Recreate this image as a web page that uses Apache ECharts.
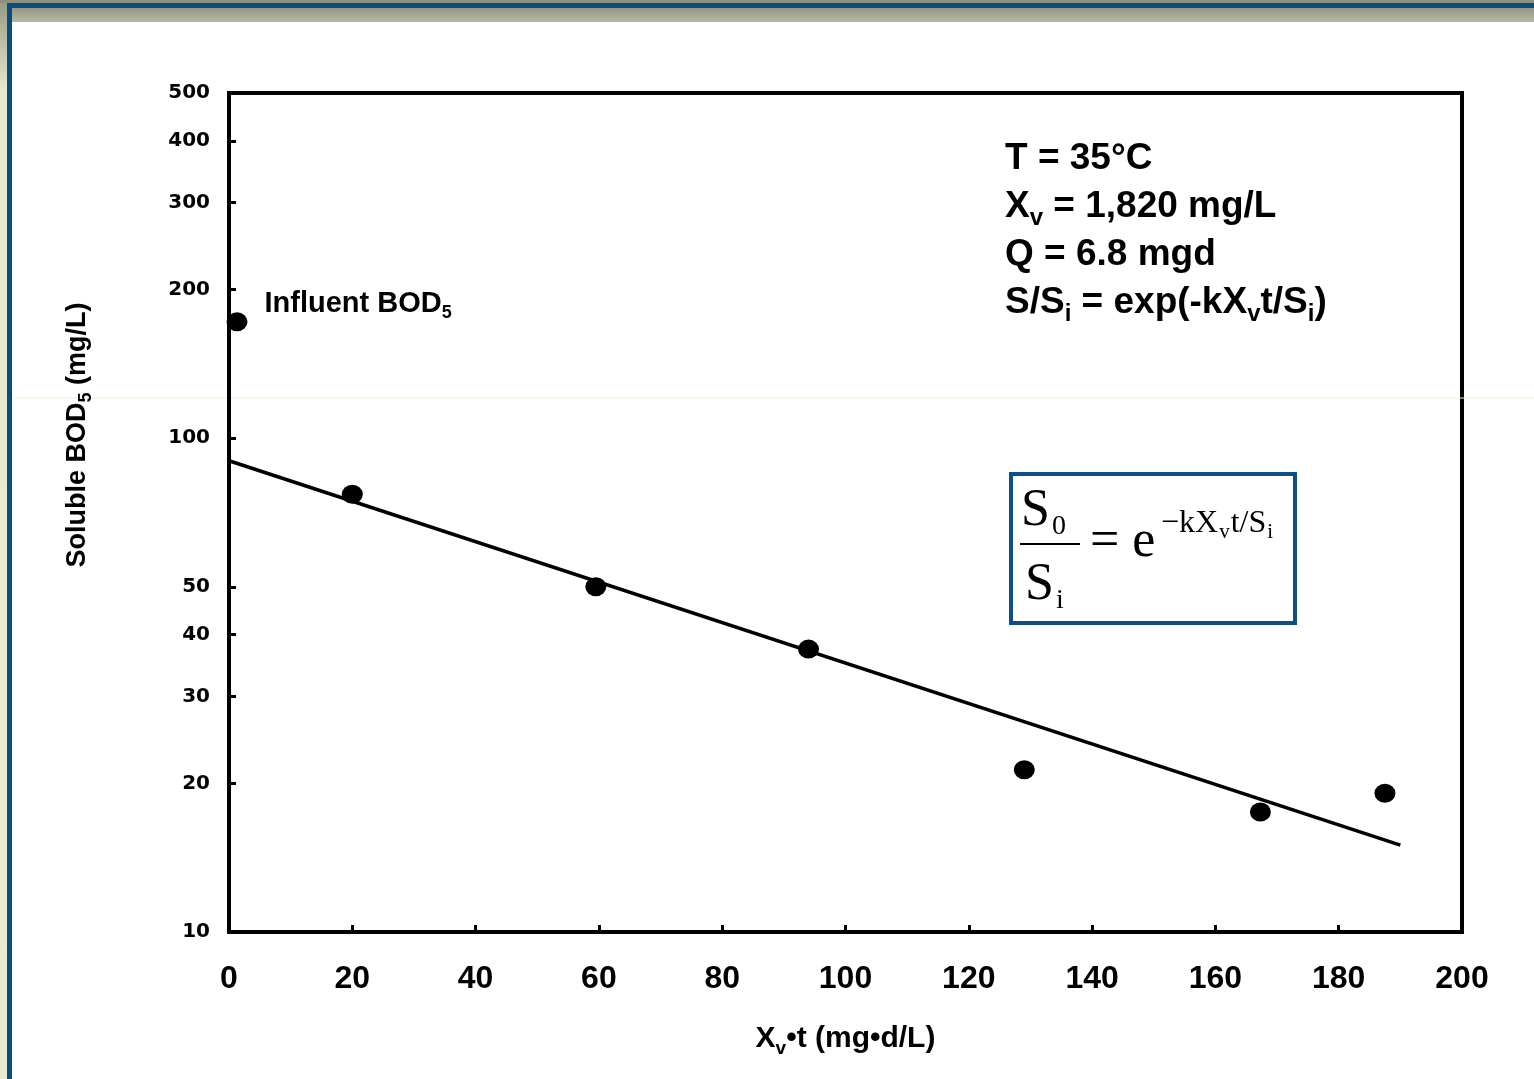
<!DOCTYPE html>
<html>
<head>
<meta charset="utf-8">
<title>Soluble BOD5 vs Xv·t</title>
<script src="https://cdn.jsdelivr.net/npm/echarts@6/dist/echarts.min.js"></script>
<style>
  html, body { margin: 0; padding: 0; background: #ffffff; }
  #chart { width: 1534px; height: 1079px; }
</style>
</head>
<body>
<div id="chart"></div>
<script>
// Axis ticks
const xTicks = [0, 20, 40, 60, 80, 100, 120, 140, 160, 180, 200];
const yTicks = [10, 20, 30, 40, 50, 100, 200, 300, 400, 500];

// Influent BOD5 (plotted just right of the y axis)
const influentX = [1.3];
const influentBOD = [172];

// Effluent soluble BOD5 against Xv·t (mg·d/L)
const xvt = [20, 59.5, 94, 129, 167.3, 187.5];
const solubleBOD = [77, 50, 37.4, 21.3, 17.5, 19.1];

// Fitted first-order line (end points)
const fitX = [0, 190];
const fitBOD = [90, 15];

const SANS = "'Liberation Sans', Arial, Helvetica, sans-serif";
const SERIF = "'Liberation Serif', 'Times New Roman', serif";

const chart = echarts.init(document.getElementById('chart'), null, { renderer: 'canvas' });

const zip = (a, b) => a.map((v, i) => [v, b[i]]);

// Top-right condition lines, each with optional subscripts
function infoLine(y, text) {
  return {
    type: 'text', left: 1005, y: y, z: 10,
    style: {
      text: text,
      verticalAlign: 'middle',
      fill: '#000',
      rich: {
        m: { fontFamily: SANS, fontWeight: 'bold', fontSize: 37, lineHeight: 46, verticalAlign: 'middle' },
        s: { fontFamily: SANS, fontWeight: 'bold', fontSize: 24, lineHeight: 24, verticalAlign: 'bottom' }
      }
    }
  };
}

const serifRich = {
  m: { fontFamily: SERIF, fontSize: 52, lineHeight: 60, verticalAlign: 'middle' },
  s: { fontFamily: SERIF, fontSize: 28, lineHeight: 26, verticalAlign: 'bottom', padding: [0, 0, 0, 2] }
};

const option = {
  backgroundColor: '#ffffff',
  animation: false,
  grid: {
    left: 229, right: 72, top: 93, bottom: 147,
    show: true, borderColor: '#000', borderWidth: 4, backgroundColor: 'transparent'
  },
  xAxis: {
    type: 'value', min: 0, max: 200, interval: 20,
    axisLine: { show: true, lineStyle: { color: '#000', width: 4 } },
    axisTick: { show: true, inside: true, length: 7, lineStyle: { color: '#000', width: 3 } },
    splitLine: { show: false },
    axisLabel: {
      margin: 31, color: '#000', fontFamily: SANS, fontWeight: 'bold', fontSize: 32,
      customValues: xTicks
    },
    name: '{m|X}{s|v}{m|•t (mg•d/L)}',
    nameLocation: 'middle', nameGap: 88,
    nameTextStyle: {
      color: '#000',
      rich: {
        m: { fontFamily: SANS, fontWeight: 'bold', fontSize: 30, lineHeight: 38, verticalAlign: 'middle' },
        s: { fontFamily: SANS, fontWeight: 'bold', fontSize: 19, lineHeight: 18, verticalAlign: 'bottom' }
      }
    }
  },
  yAxis: {
    type: 'log', logBase: 10, min: 10, max: 500,
    axisLine: { show: true, lineStyle: { color: '#000', width: 4 } },
    axisTick: { show: true, inside: true, length: 7, lineStyle: { color: '#000', width: 3 }, customValues: yTicks },
    minorTick: { show: false },
    splitLine: { show: false },
    axisLabel: {
      margin: 19, color: '#000', fontFamily: "'DejaVu Sans', sans-serif", fontWeight: 'bold', fontSize: 20,
      customValues: yTicks
    }
  },
  graphic: [
    // page frame
    { type: 'rect', shape: { x: 0, y: 0, width: 1534, height: 3 }, style: { fill: '#8f907d' }, silent: true },
    { type: 'rect', shape: { x: 0, y: 3, width: 1534, height: 5 }, style: { fill: '#0b4d80' }, silent: true },
    {
      type: 'rect', shape: { x: 12, y: 8, width: 1522, height: 14 }, silent: true,
      style: { fill: new echarts.graphic.LinearGradient(0, 0, 0, 1, [
        { offset: 0, color: '#979884' }, { offset: 1, color: '#b6b8a3' }]) }
    },
    {
      type: 'rect', shape: { x: 0, y: 3, width: 7, height: 1076 }, silent: true,
      style: { fill: new echarts.graphic.LinearGradient(0, 0, 0, 1, [
        { offset: 0, color: '#9a9b86' }, { offset: 0.08, color: '#e6e9cd' }, { offset: 1, color: '#e9ecd1' }]) }
    },
    { type: 'rect', shape: { x: 7, y: 3, width: 5, height: 1076 }, style: { fill: '#0b4d80' }, silent: true },
    { type: 'line', shape: { x1: 14, y1: 398, x2: 1534, y2: 398 }, style: { stroke: '#eff1d9', lineWidth: 1 }, silent: true },

    // y-axis title
    {
      type: 'text', x: 78, y: 435, rotation: Math.PI / 2, z: 10,
      style: {
        text: '{m|Soluble BOD}{s|5}{m| (mg/L)}',
        align: 'center', verticalAlign: 'middle', fill: '#000',
        rich: {
          m: { fontFamily: SANS, fontWeight: 'bold', fontSize: 27, lineHeight: 34, verticalAlign: 'middle' },
          s: { fontFamily: SANS, fontWeight: 'bold', fontSize: 18, lineHeight: 17, verticalAlign: 'bottom' }
        }
      }
    },

    // operating conditions
    infoLine(159, '{m|T = 35°C}'),
    infoLine(207, '{m|X}{s|v}{m| = 1,820 mg/L}'),
    infoLine(255, '{m|Q = 6.8 mgd}'),
    infoLine(303, '{m|S/S}{s|i}{m| = exp(-kX}{s|v}{m|t/S}{s|i}{m|)}'),

    // boxed model equation
    {
      type: 'rect', shape: { x: 1011, y: 474, width: 284, height: 149 },
      style: { fill: '#ffffff', stroke: '#0d4f86', lineWidth: 4 }, z: 10
    },
    {
      type: 'text', x: 1021, y: 511, z: 11,
      style: { text: '{m|S}{s|0}', verticalAlign: 'middle', fill: '#000', rich: serifRich }
    },
    { type: 'line', shape: { x1: 1020, y1: 544, x2: 1080, y2: 544 }, style: { stroke: '#000', lineWidth: 2 }, z: 11 },
    {
      type: 'text', x: 1025, y: 585, z: 11,
      style: { text: '{m|S}{s|i}', verticalAlign: 'middle', fill: '#000', rich: serifRich }
    },
    {
      type: 'text', x: 1090, y: 542, z: 11,
      style: { text: '= e', verticalAlign: 'middle', fill: '#000', fontFamily: SERIF, fontSize: 52 }
    },
    {
      type: 'text', x: 1161, y: 524, z: 11,
      style: {
        text: '{m|−kX}{s|v}{m|t/S}{s|i}', verticalAlign: 'middle', fill: '#000',
        rich: {
          m: { fontFamily: SERIF, fontSize: 32, lineHeight: 38, verticalAlign: 'middle' },
          s: { fontFamily: SERIF, fontSize: 21, lineHeight: 19, verticalAlign: 'bottom', padding: [0, 1, 0, 1] }
        }
      }
    }
  ],
  series: [
    {
      name: 'Fit', type: 'line', data: zip(fitX, fitBOD),
      showSymbol: false, symbol: 'none',
      lineStyle: { color: '#000', width: 3.5 }, z: 3
    },
    {
      name: 'Effluent', type: 'scatter', data: zip(xvt, solubleBOD),
      symbol: 'circle', symbolSize: [21, 19],
      itemStyle: { color: '#000', opacity: 1 }, z: 4
    },
    {
      name: 'Influent', type: 'scatter', data: zip(influentX, influentBOD),
      symbol: 'circle', symbolSize: [21, 19],
      itemStyle: { color: '#000', opacity: 1 }, z: 4,
      label: {
        show: true, position: 'right', distance: 0, offset: [17, -18], color: '#000',
        formatter: '{m|Influent BOD}{s|5}',
        rich: {
          m: { fontFamily: SANS, fontWeight: 'bold', fontSize: 29, lineHeight: 36, verticalAlign: 'middle', color: '#000' },
          s: { fontFamily: SANS, fontWeight: 'bold', fontSize: 18, lineHeight: 18, verticalAlign: 'bottom', color: '#000' }
        }
      }
    }
  ]
};

chart.setOption(option);
</script>
</body>
</html>
